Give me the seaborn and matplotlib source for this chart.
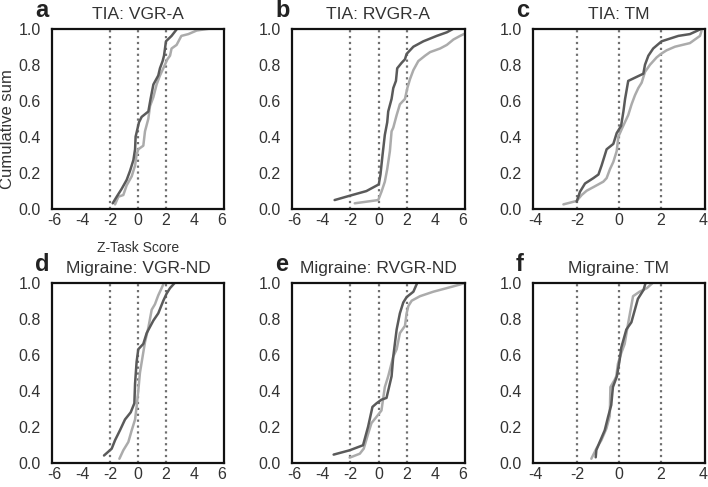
import matplotlib
matplotlib.use("Agg")
import matplotlib.pyplot as plt
import seaborn as sns

# (a) TIA: VGR-A
a_dark_x = [-1.81, -1.52, -1.17, -0.81, -0.57, -0.33, -0.21, -0.17, 0.07, 0.26, 0.74, 0.9, 1.1, 1.45, 1.57, 1.76, 1.86, 2.0, 2.4, 2.8]
a_dark_y = [0.03, 0.067, 0.11, 0.16, 0.21, 0.27, 0.33, 0.40, 0.48, 0.51, 0.54, 0.61, 0.69, 0.74, 0.78, 0.82, 0.85, 0.93, 0.96, 1.0]
a_light_x = [-1.64, -1.4, -1.05, -0.81, -0.45, -0.21, -0.1, 0.02, 0.38, 0.5, 0.74, 0.86, 1.1, 1.33, 1.57, 1.81, 2.1, 2.29, 2.4, 2.76, 3.1, 3.6, 4.2, 5.1]
a_light_y = [0.024, 0.067, 0.076, 0.13, 0.18, 0.24, 0.30, 0.33, 0.35, 0.43, 0.50, 0.57, 0.62, 0.69, 0.74, 0.78, 0.83, 0.85, 0.89, 0.91, 0.96, 0.97, 0.99, 1.0]

# (b) TIA: RVGR-A
b_dark_x = [-3.12, -2.05, -0.86, 0.02, 0.14, 0.29, 0.45, 0.62, 0.69, 0.93, 1.05, 1.24, 1.33, 1.64, 1.88, 2.0, 2.48, 3.19, 4.14, 4.86, 5.33]
b_dark_y = [0.048, 0.072, 0.098, 0.135, 0.19, 0.30, 0.41, 0.48, 0.54, 0.61, 0.67, 0.71, 0.78, 0.81, 0.83, 0.86, 0.90, 0.93, 0.96, 0.98, 1.0]
b_light_x = [-1.69, -0.02, 0.21, 0.45, 0.62, 0.81, 0.93, 1.05, 1.29, 1.52, 1.88, 2.05, 2.24, 2.48, 2.83, 3.31, 3.67, 4.38, 4.86, 5.33, 5.8, 6.2]
b_light_y = [0.03, 0.048, 0.094, 0.15, 0.22, 0.32, 0.43, 0.45, 0.52, 0.58, 0.61, 0.67, 0.72, 0.77, 0.82, 0.85, 0.87, 0.89, 0.91, 0.94, 0.96, 0.975]

# (c) TIA: TM
c_dark_x = [-2.02, -1.86, -1.62, -1.22, -0.98, -0.83, -0.59, -0.27, -0.11, 0.1, 0.21, 0.29, 0.44, 1.16, 1.24, 1.4, 1.63, 2.03, 2.83, 3.38, 3.94]
c_dark_y = [0.039, 0.094, 0.14, 0.17, 0.19, 0.24, 0.33, 0.36, 0.42, 0.46, 0.54, 0.61, 0.71, 0.75, 0.80, 0.85, 0.89, 0.93, 0.96, 0.97, 1.0]
c_light_x = [-2.65, -2.02, -1.78, -1.54, -1.22, -0.75, -0.59, -0.43, -0.27, -0.11, -0.03, 0.16, 0.44, 0.6, 0.76, 0.92, 1.08, 1.24, 1.48, 1.79, 2.0, 2.27, 2.67, 3.38, 3.62, 3.86, 3.94]
c_light_y = [0.024, 0.043, 0.076, 0.10, 0.12, 0.15, 0.17, 0.22, 0.26, 0.32, 0.40, 0.45, 0.52, 0.58, 0.63, 0.67, 0.70, 0.76, 0.80, 0.84, 0.86, 0.88, 0.90, 0.92, 0.94, 0.96, 0.99]

# (d) Migraine: VGR-ND
d_dark_x = [-2.43, -1.88, -1.64, -1.29, -0.93, -0.52, -0.26, -0.21, -0.1, 0.02, 0.38, 0.62, 1.1, 1.45, 1.81, 2.05, 2.29, 2.64]
d_dark_y = [0.04, 0.078, 0.125, 0.18, 0.24, 0.28, 0.33, 0.44, 0.56, 0.63, 0.66, 0.72, 0.79, 0.83, 0.90, 0.94, 0.97, 1.0]
d_light_x = [-1.33, -1.05, -0.69, -0.45, -0.21, -0.1, 0.02, 0.14, 0.33, 0.5, 0.74, 0.98, 1.21, 1.45, 1.69, 1.86]
d_light_y = [0.022, 0.069, 0.115, 0.18, 0.24, 0.31, 0.40, 0.50, 0.59, 0.67, 0.75, 0.85, 0.88, 0.93, 0.97, 1.0]

# (e) Migraine: RVGR-ND
e_dark_x = [-3.19, -2.05, -1.1, -0.74, -0.43, -0.14, 0.21, 0.57, 0.69, 0.93, 1.05, 1.29, 1.52, 1.76, 2.0, 2.48, 2.76]
e_dark_y = [0.045, 0.069, 0.097, 0.20, 0.31, 0.33, 0.35, 0.36, 0.40, 0.48, 0.59, 0.74, 0.83, 0.89, 0.92, 0.95, 1.0]
e_light_x = [-2.05, -1.33, -1.05, -0.74, -0.5, -0.14, 0.21, 0.45, 0.69, 1.05, 1.29, 1.52, 1.88, 2.0, 2.12, 2.36, 2.95, 3.9, 4.86, 5.8, 6.2]
e_light_y = [0.028, 0.05, 0.078, 0.16, 0.22, 0.255, 0.29, 0.42, 0.48, 0.59, 0.63, 0.72, 0.76, 0.83, 0.87, 0.90, 0.925, 0.95, 0.97, 0.99, 1.0]

# (f) Migraine: TM
f_dark_x = [-1.11, -1.08, -0.92, -0.68, -0.52, -0.37, -0.29, -0.1, 0.03, 0.11, 0.35, 0.59, 0.9, 1.17, 1.27]
f_dark_y = [0.03, 0.07, 0.115, 0.18, 0.255, 0.32, 0.42, 0.48, 0.57, 0.64, 0.74, 0.78, 0.91, 0.96, 1.0]
f_light_x = [-1.32, -1.08, -0.84, -0.6, -0.44, -0.41, -0.21, -0.13, -0.05, 0.11, 0.27, 0.43, 0.67, 0.98, 1.33, 1.62]
f_light_y = [0.022, 0.078, 0.125, 0.19, 0.26, 0.42, 0.46, 0.48, 0.55, 0.61, 0.66, 0.77, 0.925, 0.95, 0.97, 1.0]

letters = ["a", "b", "c", "d", "e", "f"]
titles = ["TIA: VGR-A", "TIA: RVGR-A", "TIA: TM",
          "Migraine: VGR-ND", "Migraine: RVGR-ND", "Migraine: TM"]
xticks_wide = [-6, -4, -2, 0, 2, 4, 6]
xticks_narrow = [-4, -2, 0, 2, 4]
yticks = [0.0, 0.2, 0.4, 0.6, 0.8, 1.0]
ref_lines = [-2, 0, 2]

panels = [
    (a_dark_x, a_dark_y, a_light_x, a_light_y),
    (b_dark_x, b_dark_y, b_light_x, b_light_y),
    (c_dark_x, c_dark_y, c_light_x, c_light_y),
    (d_dark_x, d_dark_y, d_light_x, d_light_y),
    (e_dark_x, e_dark_y, e_light_x, e_light_y),
    (f_dark_x, f_dark_y, f_light_x, f_light_y),
]

sns.set_style("white")
plt.rcParams["font.family"] = ["Liberation Sans", "DejaVu Sans"]
plt.rcParams["axes.unicode_minus"] = False

fig = plt.figure(figsize=(7.08, 4.87), dpi=100)

lefts = [52, 292, 533]
widths = [172, 173, 172]
tops = [28.7, 282.7]
H = 180

dark = "#5a5a5a"
light = "#ababab"

for i, (dx, dy, lx, ly) in enumerate(panels):
    row, col = divmod(i, 3)
    ax = fig.add_axes([lefts[col] / 708, 1 - (tops[row] + H) / 487, widths[col] / 708, H / 487])
    for v in ref_lines:
        ax.axvline(v, color="#707070", ls=":", lw=1.6, zorder=1)
    sns.lineplot(x=lx, y=ly, sort=False, estimator=None, color=light, lw=1.8, ax=ax)
    sns.lineplot(x=dx, y=dy, sort=False, estimator=None, color=dark, lw=1.8, ax=ax)
    if col == 2:
        ax.set_xlim(-4.1, 4.1)
        ax.set_xticks(xticks_narrow)
    else:
        ax.set_xlim(-6.15, 6.15)
        ax.set_xticks(xticks_wide)
    ax.set_ylim(0, 1)
    ax.set_yticks(yticks)
    ax.set_yticklabels([f"{t:.1f}" for t in yticks])
    ax.tick_params(axis="x", labelsize=11.5, colors="#333333", length=0, pad=3)
    ax.tick_params(axis="y", labelsize=11.5, colors="#333333", length=0, pad=8)
    for s in ax.spines.values():
        s.set_color("#111111")
        s.set_linewidth(1.6)
    ax.set_title(titles[i], fontsize=12.5, color="#333333", pad=7)
    ax.set_xlabel("")
    ax.set_ylabel("")
    if i == 0:
        ax.set_xlabel("Z-Task Score", fontsize=10, color="#333333")
        ax.xaxis.set_label_coords(0.5, -0.18)
        ax.set_ylabel("Cumulative sum", fontsize=12, color="#333333")
        ax.yaxis.set_label_coords(-0.215, 0.445)
    fig.text((lefts[col] - 17) / 708, 1 - (tops[row] - 11.5) / 487, letters[i],
             fontsize=17, fontweight="bold", color="#222222", ha="left", va="baseline")

fig.savefig("out.png", dpi=100)
